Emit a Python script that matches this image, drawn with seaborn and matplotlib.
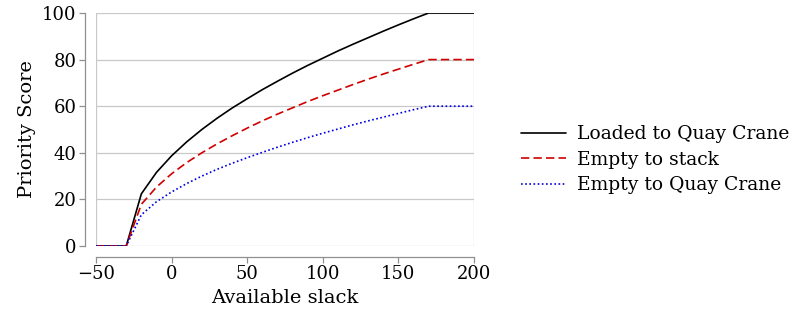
import matplotlib
matplotlib.use("Agg")
import matplotlib.pyplot as plt
import pandas as pd
import seaborn as sns

slack = [-50, -30, -20, -10, 0, 10, 20, 30, 40, 50, 60, 70, 80, 90, 100,
         110, 120, 130, 140, 150, 160, 170, 200]
loaded_qc = [0, 0, 22.4, 31.6, 38.7, 44.7, 50.0, 54.8, 59.2, 63.2, 67.1, 70.7,
             74.2, 77.5, 80.6, 83.7, 86.6, 89.4, 92.2, 94.9, 97.5, 100, 100]
empty_stack = [0, 0, 17.9, 25.3, 31.0, 35.8, 40.0, 43.8, 47.3, 50.6, 53.7, 56.6,
               59.3, 62.0, 64.5, 66.9, 69.3, 71.6, 73.8, 75.9, 78.0, 80, 80]
empty_qc = [0, 0, 13.4, 19.0, 23.2, 26.8, 30.0, 32.9, 35.5, 37.9, 40.2, 42.4,
            44.5, 46.5, 48.4, 50.2, 52.0, 53.7, 55.3, 56.9, 58.5, 60, 60]
series_names = ["Loaded to Quay Crane", "Empty to stack", "Empty to Quay Crane"]

df = pd.DataFrame({"slack": slack * 3,
                   "score": loaded_qc + empty_stack + empty_qc,
                   "kind": [n for n in series_names for _ in slack]})

sns.set_style("white")
plt.rcParams["font.family"] = ["DejaVu Serif"]
plt.rcParams["mathtext.fontset"] = "dejavuserif"
plt.rcParams["text.color"] = "black"
plt.rcParams["axes.labelcolor"] = "black"
plt.rcParams["xtick.labelcolor"] = "black"
plt.rcParams["ytick.labelcolor"] = "black"

fig = plt.figure(figsize=(8.01, 3.21), dpi=100)
ax = fig.add_axes([96 / 801, 75 / 321, 378 / 801, 233 / 321])

grid_c = "#c8c8c8"
for yv in range(0, 101, 20):
    ax.axhline(yv, color=grid_c, lw=0.9, zorder=0)
ax.axvline(-50, color=grid_c, lw=0.9, zorder=0)
ax.axvline(200, color=grid_c, lw=0.9, zorder=0)

sns.lineplot(data=df, x="slack", y="score", hue="kind", style="kind",
             palette={"Loaded to Quay Crane": "black", "Empty to stack": "#d00000",
                      "Empty to Quay Crane": "#0000e0"},
             dashes={"Loaded to Quay Crane": "", "Empty to stack": (5, 2.5),
                     "Empty to Quay Crane": (1, 1.5)},
             linewidth=1.2, ax=ax, legend=True)

ax.set_xlim(-50, 200)
ax.set_ylim(0, 100)
ax.set_xticks([-50, 0, 50, 100, 150, 200])
ax.set_xticklabels(["\u221250", "0", "50", "100", "150", "200"])
ax.set_yticks([0, 20, 40, 60, 80, 100])
ax.set_xlabel("Available slack", fontsize=14)
ax.set_ylabel("Priority Score", fontsize=14)
ax.tick_params(labelsize=13, direction="out", length=4, width=0.9, color="#909090",
               bottom=True, left=True, pad=2)
sns.despine(ax=ax, offset=8)
for side in ["left", "bottom"]:
    ax.spines[side].set_color("#909090")
    ax.spines[side].set_linewidth(0.9)

ax.legend(title=None, frameon=False, loc="center left", bbox_to_anchor=(1.105, 0.37),
          borderaxespad=0, fontsize=13.5, handlelength=2.4, handletextpad=0.6,
          labelspacing=0.4)

fig.savefig("out.png", dpi=100)
